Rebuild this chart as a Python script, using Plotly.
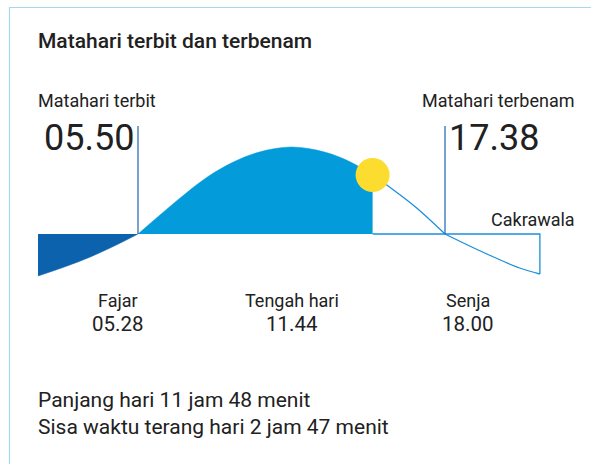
import plotly.graph_objects as go

W, H = 591, 464

# Event times (decimal hours) and their display labels
sunrise_h, sunset_h = 5 + 50 / 60, 17 + 38 / 60
now_h = 14 + 51 / 60
event_names = ["Fajar", "Tengah hari", "Senja"]
event_times = ["05.28", "11.44", "18.00"]
sunrise_label, sunset_label = "05.50", "17.38"

# Sun path: relative height of the sun above (+) / below (-) the horizon
pre_dawn_h = [1.99, 3.0, 4.0, 5.0, sunrise_h]
pre_dawn_v = [-42, -33, -23, -11, 0]
day_past_h = [sunrise_h, 6.5, 7.5, 8.5, 9.5, 10.5, 11.73, 13.0, 14.0, now_h]
day_past_v = [0, 15, 37, 57, 72, 82, 87, 82, 72, 59]
day_left_h = [now_h, 15.5, 16.5, sunset_h]
day_left_v = [59, 47, 27, 0]
night_h = [sunset_h, 18.5, 19.5, 20.5, 21.28]
night_v = [0, -11, -23, -34, -40]

# Axis scale: about 26 px per hour, horizon at 234 px from the top
PX_PER_H = 307 / (sunset_h - sunrise_h)
x0 = sunrise_h - 138 / PX_PER_H
x1 = x0 + W / PX_PER_H
y_top, y_bot = 234, 234 - H

DARK = "#0d62ad"
LIGHT = "#039bd9"
OUTLINE = "#1c8fdb"
MARK = "#1b64b4"
TXT = "#212121"
FONT = "Roboto"

fig = go.Figure()
fig.add_trace(go.Scatter(x=pre_dawn_h, y=pre_dawn_v, mode="lines", fill="tozeroy",
                         fillcolor=DARK, line=dict(color=DARK, width=0.5, shape="spline")))
fig.add_trace(go.Scatter(x=day_past_h, y=day_past_v, mode="lines", fill="tozeroy",
                         fillcolor=LIGHT, line=dict(color=LIGHT, width=0.5, shape="spline")))
fig.add_trace(go.Scatter(x=day_left_h, y=day_left_v, mode="lines",
                         line=dict(color=OUTLINE, width=1.3, shape="spline")))
fig.add_trace(go.Scatter(x=night_h, y=night_v, mode="lines",
                         line=dict(color=OUTLINE, width=1.3, shape="spline")))
# horizon line and right edge of the remaining part of the day
fig.add_trace(go.Scatter(x=[now_h, night_h[-1], night_h[-1]], y=[0, 0, night_v[-1]],
                         mode="lines", line=dict(color=OUTLINE, width=1.3)))
# sunrise / sunset markers
for hx in (sunrise_h, sunset_h):
    fig.add_trace(go.Scatter(x=[hx, hx], y=[0, 108], mode="lines",
                             line=dict(color=MARK, width=1.2)))
# the sun at the current time
fig.add_trace(go.Scatter(x=[now_h], y=[day_past_v[-1]], mode="markers",
                         marker=dict(size=34, color="#fddc30", line=dict(width=0))))


def px(x):
    return x / W


def py(y):
    return 1 - y / H


ann = []


def text(t, x, y, size, xanchor="left", weight=400, color=TXT):
    ann.append(dict(text=t, x=px(x), y=py(y), xref="paper", yref="paper",
                    xanchor=xanchor, yanchor="middle", showarrow=False,
                    font=dict(family=FONT, size=size, color=color, weight=weight)))


text("Matahari terbit dan terbenam", 36, 41, 21, weight=500)
text("Matahari terbit", 36, 101, 18)
text("Matahari terbenam", 577, 101, 18, xanchor="right")
text(sunrise_label, 136, 138, 36, xanchor="right")
text(sunset_label, 447, 138, 36)
text("Cakrawala", 577, 219, 18, xanchor="right")
for name, t, cx in zip(event_names, event_times, [118, 292, 468]):
    text(name, cx, 300, 18, xanchor="center")
    text(t, cx, 324, 20.5, xanchor="center")
text("Panjang hari 11 jam 48 menit", 36, 400, 21)
text("Sisa waktu terang hari 2 jam 47 menit", 36, 427, 21)

fig.update_layout(
    width=W, height=H, margin=dict(l=0, r=0, t=0, b=0),
    paper_bgcolor="white", plot_bgcolor="white", showlegend=False,
    xaxis=dict(range=[x0, x1], visible=False, fixedrange=True),
    yaxis=dict(range=[y_bot, y_top], visible=False, fixedrange=True),
    annotations=ann,
    shapes=[dict(type="rect", xref="paper", yref="paper",
                 x0=px(9.5), y0=py(H + 10), x1=px(W + 10), y1=py(7.5),
                 line=dict(color="#a8d8f0", width=1.2))],
)

fig.write_html("out.html", config={"displayModeBar": False})
